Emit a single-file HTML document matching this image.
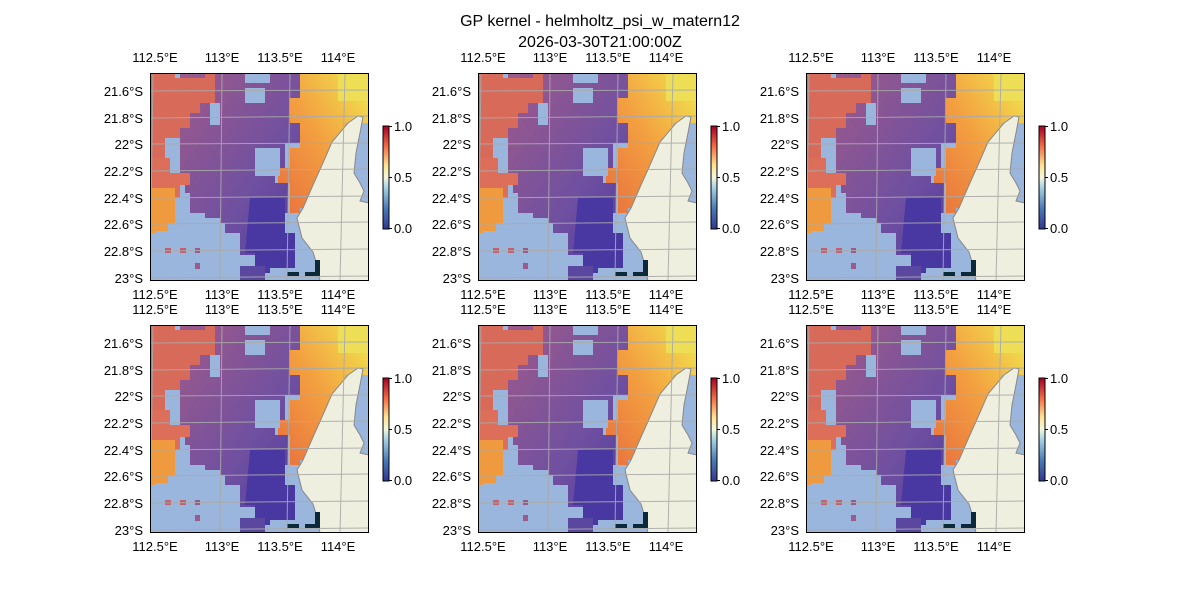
<!DOCTYPE html>
<html><head><meta charset="utf-8"><style>
html,body{margin:0;padding:0;background:#fff}
svg{display:block;font-family:"Liberation Sans","DejaVu Sans",sans-serif}
</style></head><body>
<svg width="1200" height="600" viewBox="0 0 1200 600" xmlns="http://www.w3.org/2000/svg">
<defs>
<linearGradient id="cb" x1="0" y1="1" x2="0" y2="0">
<stop offset="0" stop-color="#313695"/><stop offset="0.2" stop-color="#4a7ab7"/>
<stop offset="0.4" stop-color="#a5d1e4"/><stop offset="0.5" stop-color="#f3f7dc"/>
<stop offset="0.62" stop-color="#fee290"/><stop offset="0.8" stop-color="#f46d43"/>
<stop offset="1" stop-color="#a50026"/></linearGradient>
<linearGradient id="pg" x1="0" y1="0" x2="1" y2="1">
<stop offset="0" stop-color="#9e5a8a"/><stop offset="0.55" stop-color="#7050a0"/><stop offset="1" stop-color="#4a38a0"/></linearGradient>
<linearGradient id="og" x1="0" y1="1" x2="1" y2="0">
<stop offset="0" stop-color="#e8703e"/><stop offset="0.5" stop-color="#f3a040"/><stop offset="1" stop-color="#f2e850"/></linearGradient>
<clipPath id="cp"><rect width="219" height="208"/></clipPath>
<g id="map">
<g clip-path="url(#cp)">
<rect width="219" height="208" fill="#9bb6dc"/>
<!-- purple main -->
<path d="M30,0 H95 V10 H120 V0 H165 V45 H150 V70 H135 V95 H125 V110 H138 V140 H130 V165 H140 V195 H110 V182 H90 V165 H75 V150 H55 V140 H40 V120 H35 V100 H30 Z" fill="url(#pg)"/>
<path d="M100,125 H135 V160 H145 V195 H120 V200 H105 V180 H95 Z" fill="#4a38a2"/>
<!-- left orange -->
<path d="M0,0 H25 V5 H55 V0 H65 V30 H50 V40 H40 V55 H30 V65 H15 V85 H0 Z" fill="#d86a5a"/>
<path d="M0,85 H20 V100 H40 V112 H30 V125 H0 Z" fill="#dc6e5a"/>
<path d="M0,115 H25 V150 H18 V158 H5 V160 H0 Z" fill="#f09a40"/>
<!-- right orange/yellow -->
<path d="M150,0 H219 V50 H195 V75 H180 V100 H170 V120 H165 V135 H150 V140 H140 V110 H128 V95 H140 V75 H150 V50 H140 V25 H150 Z" fill="url(#og)"/>
<rect x="188" y="0" width="31" height="28" fill="#eede55"/>
<!-- ocean patches -->
<rect x="0" y="160" width="90" height="48" fill="#9bb6dc"/>
<rect x="105" y="75" width="25" height="28" fill="#9bb6dc"/>
<rect x="40" y="145" width="30" height="17" fill="#9bb6dc"/>
<rect x="60" y="30" width="10" height="22" fill="#9bb6dc"/>
<rect x="95" y="15" width="20" height="15" fill="#9bb6dc"/>
<rect x="15" y="175" width="6" height="5" fill="#c06070"/><rect x="30" y="175" width="6" height="5" fill="#c06070"/>
<rect x="45" y="175" width="5" height="5" fill="#9a5a8c"/><rect x="45" y="190" width="5" height="6" fill="#9a5a8c"/>
<rect x="90" y="193" width="25" height="15" fill="#5a48a0"/>
<!-- land -->
<path d="M208,43 L213,44 L210,60 L206,80 L204,100 L210,110 L214,118 L210,128 L219,130 V208 H170 L167,192 L163,179 L152,165 L147,145 L153,135 L163,112 L172,92 L182,69 L198,50 Z" fill="#efefdf" stroke="#888" stroke-width="1"/>
<rect x="137" y="199" width="12" height="4" fill="#0a2a3a"/><rect x="155" y="199" width="10" height="4" fill="#0a2a3a"/><rect x="165" y="187" width="5" height="16" fill="#0a2a3a"/>
<!-- grid -->
<g stroke="#aaa" stroke-width="1" fill="none" opacity="0.9">
<path d="M0,18 L219,17 M0,45 L219,43 M0,71 L219,70 M0,98 L219,96 M0,125 L219,123 M0,151 L219,149 M0,178 L219,176 M0,205 L219,203"/>
<path d="M3,0 L0,208 M72,0 L70,208 M140,0 L137,208 M195,0 L190,208"/>
</g>
</g>
<rect x="0.5" y="0.5" width="218" height="207" fill="none" stroke="#000" stroke-width="1"/>
<!-- colorbar -->
<rect x="233" y="53" width="6" height="103" fill="url(#cb)" stroke="#000" stroke-width="1"/>
<g font-size="13" fill="#000">
<path d="M239,53.5 h3 M239,104.5 h3 M239,155.5 h3" stroke="#000"/>
<text x="244" y="58">1.0</text><text x="244" y="109">0.5</text><text x="244" y="160">0.0</text>
<g text-anchor="end">
<text x="-7" y="23">21.6°S</text><text x="-7" y="50">21.8°S</text><text x="-7" y="76">22°S</text>
<text x="-7" y="103">22.2°S</text><text x="-7" y="130">22.4°S</text><text x="-7" y="156">22.6°S</text>
<text x="-7" y="183">22.8°S</text><text x="-7" y="210">23°S</text></g>
<g text-anchor="middle">
<text x="5" y="-11">112.5°E</text><text x="72" y="-11">113°E</text><text x="130" y="-11">113.5°E</text><text x="188" y="-11">114°E</text>
<text x="5" y="226">112.5°E</text><text x="72" y="226">113°E</text><text x="130" y="226">113.5°E</text><text x="188" y="226">114°E</text>
</g></g>
</g>
</defs>
<text x="600" y="26" font-size="16" text-anchor="middle">GP kernel - helmholtz_psi_w_matern12</text>
<text x="600" y="47" font-size="16" text-anchor="middle">2026-03-30T21:00:00Z</text>
<use href="#map" x="150" y="73"/><use href="#map" x="478" y="73"/><use href="#map" x="806" y="73"/>
<use href="#map" x="150" y="325"/><use href="#map" x="478" y="325"/><use href="#map" x="806" y="325"/>
</svg>
</body></html>
